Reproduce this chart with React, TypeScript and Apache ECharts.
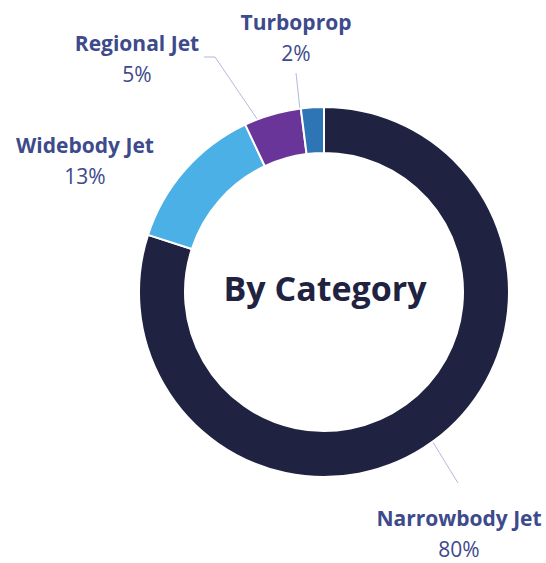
import React, { useEffect, useRef } from "react";
import * as echarts from "echarts";

const categories = ["Narrowbody Jet", "Widebody Jet", "Regional Jet", "Turboprop"];
const shares = [80, 13, 5, 2];
const sliceColors = ["#1f2341", "#4bb0e6", "#6a3598", "#2e75b6"];
const centerTitle = "By Category";

// label placements (x, y of the label box's centre) and leader-line points
const labelPos: [number, number][] = [
  [459, 528],
  [85, 155],
  [137, 53],
  [296, 32],
];
const linePts: ([number, number][] | null)[] = [
  [[423, 426], [458, 483]],
  null,
  [[268, 135], [215, 57], [204, 57]],
  [[302, 128], [296, 73]],
];

const LABEL_COLOR = "#3d4a8b";
const FONT = "'Open Sans', 'Noto Sans', sans-serif";

export default function App() {
  const ref = useRef<HTMLDivElement>(null);
  useEffect(() => {
    document.body.style.margin = "0";
    const chart = echarts.init(ref.current!, undefined, { renderer: "svg" });
    chart.setOption({
      animation: false,
      backgroundColor: "#ffffff",
      graphic: [
        {
          type: "text",
          x: 325,
          y: 288,
          style: {
            text: centerTitle,
            align: "center",
            verticalAlign: "middle",
            fontFamily: FONT,
            fontWeight: "bold",
            fontSize: 34,
            fill: "#1f2341",
          },
        },
      ],
      series: [
        {
          type: "pie",
          center: [324, 292],
          radius: [139, 185],
          startAngle: 90,
          clockwise: true,
          avoidLabelOverlap: false,
          itemStyle: { borderColor: "#ffffff", borderWidth: 2 },
          label: {
            show: true,
            position: "outside",
            formatter: "{n|{b}}\n{p|{d}%}",
            rich: {
              n: { fontFamily: FONT, fontWeight: "bold", fontSize: 21, color: LABEL_COLOR, lineHeight: 42, align: "center" },
              p: { fontFamily: FONT, fontWeight: "normal", fontSize: 21, color: LABEL_COLOR, lineHeight: 20, align: "center" },
            },
          },
          labelLine: { show: true, lineStyle: { color: "#b3b8dd", width: 1 } },
          labelLayout: (params: any) => {
            const i = params.dataIndex;
            const out: any = {
              x: labelPos[i][0],
              y: labelPos[i][1],
              align: "center",
              verticalAlign: "middle",
            };
            if (linePts[i]) out.labelLinePoints = linePts[i];
            return out;
          },
          data: categories.map((c, i) => ({
            name: c,
            value: shares[i],
            itemStyle: { color: sliceColors[i] },
            labelLine: { show: linePts[i] !== null },
          })),
        },
      ],
    });
    return () => chart.dispose();
  }, []);
  return <div ref={ref} style={{ width: 546, height: 563 }} />;
}
